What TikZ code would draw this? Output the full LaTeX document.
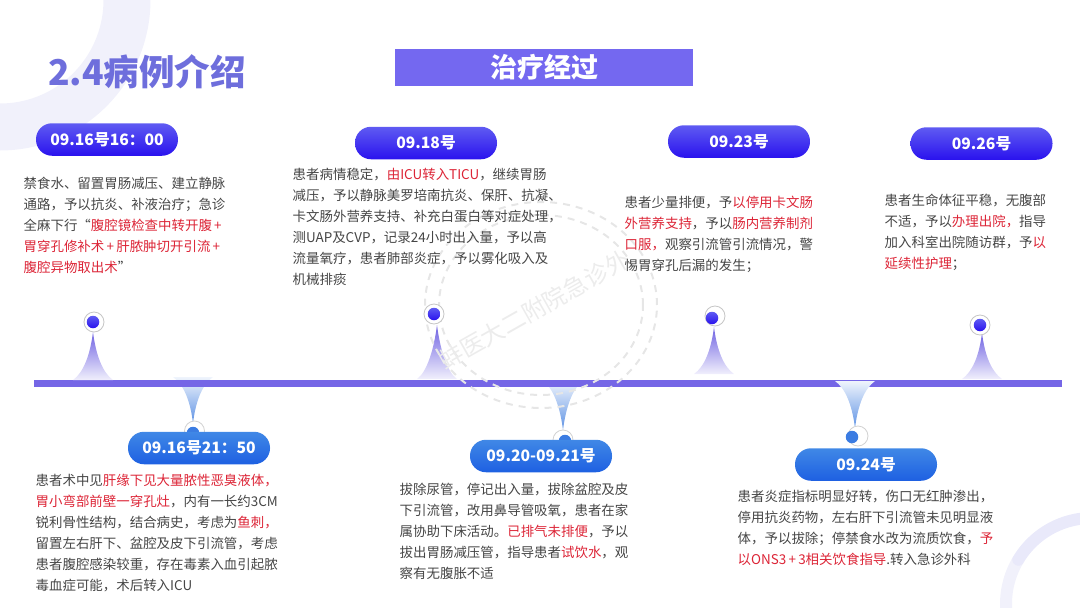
\documentclass[tikz,border=0pt]{standalone}
\usepackage{fontspec}
\setmainfont{Noto Sans CJK SC}
\definecolor{rd}{HTML}{DC2436}
\definecolor{txt}{HTML}{454545}
\definecolor{barc}{HTML}{7566E6}
\definecolor{ringa}{HTML}{F1F1FB}
\definecolor{ringb}{HTML}{E9E9FA}
\definecolor{wm}{HTML}{E6E6E6}
\definecolor{wmt}{HTML}{ECECEC}
\definecolor{titlec}{HTML}{6E6EDC}
\definecolor{banc}{HTML}{7468F0}
\definecolor{topa}{HTML}{5F5BF2}
\definecolor{topb}{HTML}{2A12EE}
\definecolor{bota}{HTML}{4088E6}
\definecolor{botb}{HTML}{1E60E2}
\definecolor{botc}{HTML}{3B7CE2}
\definecolor{conep}{HTML}{6F62E2}
\definecolor{coneb}{HTML}{5E92E4}
\newcommand\rd[1]{\textcolor{rd}{#1}}
\newcommand\fl{\rule{0pt}{10pt}}
\newcommand\pls{\,+\,}
\newcommand\upcone[4]{\shade[top color=#4,bottom color=#4!10!white] (#1-20,#3) .. controls (#1-10,#3-7) and (#1-3,#2+24) .. (#1,#2) .. controls (#1+3,#2+24) and (#1+10,#3-7) .. (#1+20,#3) -- cycle;}
\newcommand\downcone[4]{\shade[bottom color=#4,top color=#4!10!white] (#1-20,#3) .. controls (#1-10,#3+7) and (#1-3,#2-24) .. (#1,#2) .. controls (#1+3,#2-24) and (#1+10,#3+7) .. (#1+20,#3) -- cycle;}
\tikzset{
  x=1pt,y=-1pt,
  tblock/.style={anchor=north west,inner sep=0pt,align=left,text=txt,font=\fontsize{13.45}{21}\selectfont},
  toppill/.style={rounded corners=16pt,minimum width=142pt,minimum height=32.5pt,inner sep=0pt,top color=topa,bottom color=topb,text=white,font=\fontsize{15.7}{18}\selectfont\bfseries},
  botpill/.style={rounded corners=16pt,minimum width=142pt,minimum height=32.5pt,inner sep=0pt,top color=bota,bottom color=botb,text=white,font=\fontsize{15.7}{18}\selectfont\bfseries},
  halo/.style={circle,draw=#1,line width=0.8pt,fill=white,minimum size=20pt,inner sep=0pt},
  topdot/.style={circle,minimum size=12.5pt,inner sep=0pt,top color=topa,bottom color=topb},
  botdot/.style={circle,minimum size=12.5pt,inner sep=0pt,fill=botc},
  wmring/.style={draw=wm,line width=2pt,dash pattern=on 7pt off 6pt}
}
\begin{document}
\begin{tikzpicture}
\useasboundingbox (0,0) rectangle (1080,608);
\clip (0,0) rectangle (1080,608);
% background rings
\draw[ringa,line width=47pt] plot[smooth,domain=-5:95,samples=40] ({127*cos(\x)},{127*sin(\x)});
\draw[ringa,line width=12pt] plot[smooth,domain=149:190,samples=20] ({1092+86*cos(\x)},{604-86*sin(\x)});
\draw[ringb,line width=12pt,line cap=round] plot[smooth,domain=80:149,samples=30] ({1092+86*cos(\x)},{604-86*sin(\x)});
% title and banner
\node[inner sep=0pt,text=titlec,font=\fontsize{35.5}{38}\selectfont\bfseries,anchor=west] (title) at (48,72) {2.4病例介绍};
\node[fill=banc,minimum width=298pt,minimum height=37pt,inner sep=0pt,text=white,font=\fontsize{27}{30}\selectfont\bfseries] (banner) at (544,67) {治疗经过};
% cones behind the bar
\downcone{193}{423}{377}{coneb}
\downcone{563}{430}{381}{coneb}
% axis
\node[fill=barc,minimum width=1028pt,minimum height=7pt,inner sep=0pt,anchor=west] (axis) at (34,383.5) {};
% cones
\upcone{93}{332}{380}{conep}
\upcone{437}{325}{379}{conep}
\upcone{714}{327}{374}{conep}
\upcone{982}{333}{379}{conep}
\downcone{855}{428}{381}{coneb}
% watermark
\draw[wmring] (541,305) circle[x radius=116pt,y radius=103pt];
\draw[wmring] (541,305) circle[x radius=102pt,y radius=90pt];
\node[text=wmt,rotate=29.5,inner sep=0pt,font=\fontsize{23.8}{25}\selectfont] (mark) at (534,310) {蚌医大二附院急诊外};
% halos and dots
\node[halo=gray!45] (h1) at (94,322) {};
\node[topdot] (d1) at (93,322) {};
\node[halo=gray!45] (h2) at (434,314) {};
\node[topdot] (d2) at (434,314) {};
\node[halo=gray!45] (h3) at (715,316) {};
\node[topdot] (d3) at (712,318) {};
\node[halo=gray!45] (h4) at (980,325) {};
\node[topdot] (d4) at (980,325) {};
\node[halo=gray!35] (h5) at (194.5,431) {};
\node[botdot] (d5) at (193,433) {};
\node[halo=gray!35] (h6) at (563,440) {};
\node[botdot] (d6) at (565,441) {};
\node[halo=gray!35] (h7) at (858,436) {};
\node[botdot] (d7) at (852,437) {};
% date pills
\node[toppill] (p1) at (107,139.5) {09.16号16：00};
\node[toppill] (p2) at (426,143) {09.18号};
\node[toppill] (p3) at (739,141.5) {09.23号};
\node[toppill] (p4) at (981.5,143.5) {09.26号};
\node[botpill] (p5) at (199,448) {09.16号21：50};
\node[botpill] (p6) at (541,456) {09.20-09.21号};
\node[botpill] (p7) at (866,464.5) {09.24号};
% texts
\node[tblock] (t1) at (23.5,177) {\fl 禁食水、留置胃肠减压、建立静脉\\通路，予以抗炎、补液治疗；急诊\\全麻下行“\rd{腹腔镜检查中转开腹\pls}\\\rd{胃穿孔修补术\pls 肝脓肿切开引流\pls}\\\rd{腹腔异物取出术}”};
\node[tblock] (t2) at (292.5,167.5) {\fl 患者病情稳定，\rd{由ICU转入TICU}，继续胃肠\\减压，予以静脉美罗培南抗炎、保肝、抗凝、\\卡文肠外营养支持、补充白蛋白等对症处理，\\测UAP及CVP，记录24小时出入量，予以高\\流量氧疗，患者肺部炎症，予以雾化吸入及\\机械排痰};
\node[tblock] (t3) at (624.5,195.5) {\fl 患者少量排便，予\rd{以停用卡文肠}\\\rd{外营养支持}，予以\rd{肠内营养制剂}\\\rd{口服，}观察引流管引流情况，警\\惕胃穿孔后漏的发生；};
\node[tblock] (t4) at (884.5,193.5) {\fl 患者生命体征平稳，无腹部\\不适，予以\rd{办理出院，}指导\\加入科室出院随访群，予\rd{以}\\\rd{延续性护理}；};
\node[tblock] (t5) at (35.5,473.5) {\fl 患者术中见\rd{肝缘下见大量脓性恶臭液体，}\\\rd{胃小弯部前壁一穿孔灶}，内有一长约3CM\\锐利骨性结构，结合病史，考虑为\rd{鱼刺，}\\留置左右肝下、盆腔及皮下引流管，考虑\\患者腹腔感染较重，存在毒素入血引起脓\\毒血症可能，术后转入ICU};
\node[tblock] (t6) at (399.5,482.5) {\fl 拔除尿管，停记出入量，拔除盆腔及皮\\下引流管，改用鼻导管吸氧，患者在家\\属协助下床活动。\rd{已排气未排便}，予以\\拔出胃肠减压管，指导患者\rd{试饮水}，观\\察有无腹胀不适};
\node[tblock] (t7) at (737.5,489.5) {\fl 患者炎症指标明显好转，伤口无红肿渗出，\\停用抗炎药物，左右肝下引流管未见明显液\\体，予以拔除；停禁食水改为流质饮食，\rd{予}\\\rd{以ONS3\pls 3相关饮食指导}.转入急诊外科};
\end{tikzpicture}
\end{document}
